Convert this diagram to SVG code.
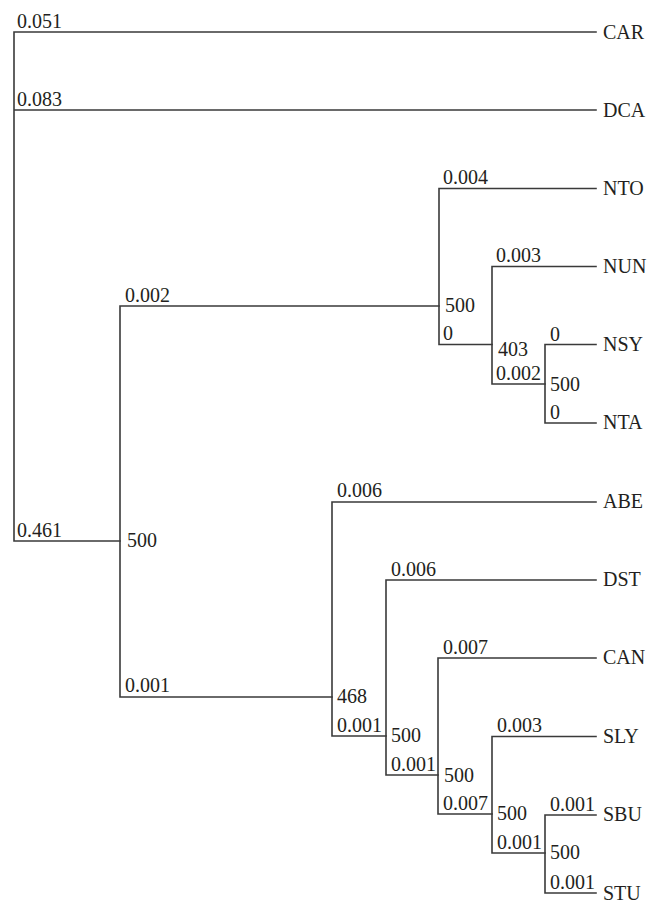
<svg xmlns="http://www.w3.org/2000/svg" width="666" height="912" viewBox="0 0 666 912" font-family="'Liberation Serif', 'Times New Roman', serif">
<style>
.e{fill:none;stroke:#3a3a3a;stroke-width:1.6;stroke-linecap:square}
text{font-family:'Liberation Serif','Times New Roman',serif;font-size:20px;fill:#231f20}
</style>
<rect width="666" height="912" fill="#fff"/>
<g id="connectors">
<path class="e" d="M14,32V541M14,32H596M14,110H596M14,541H120"/>
<path class="e" d="M120,306V697M120,306H439M120,697H332"/>
<path class="e" d="M439,188.5V344.5M439,188.5H596M439,344.5H492"/>
<path class="e" d="M492,266.5V384M492,266.5H596M492,384H545"/>
<path class="e" d="M545,344.5V423M545,344.5H596M545,423H596"/>
<path class="e" d="M332,502V736M332,502H596M332,736H386"/>
<path class="e" d="M386,580V775M386,580H596M386,775H438"/>
<path class="e" d="M438,658V814M438,658H596M438,814H492"/>
<path class="e" d="M492,736.5V853M492,736.5H596M492,853H545"/>
<path class="e" d="M545,815V893M545,815H596M545,893H596"/>
</g>
<g id="branch-labels">
<text x="17" y="28">0.051</text>
<text x="17" y="106">0.083</text>
<text x="17" y="537">0.461</text>
<text x="125" y="302">0.002</text>
<text x="125" y="692">0.001</text>
<text x="443" y="184">0.004</text>
<text x="443" y="340">0</text>
<text x="496" y="262">0.003</text>
<text x="496" y="380">0.002</text>
<text x="550" y="341">0</text>
<text x="550" y="419">0</text>
<text x="337" y="497">0.006</text>
<text x="337" y="732">0.001</text>
<text x="391" y="576">0.006</text>
<text x="391" y="771">0.001</text>
<text x="443" y="654">0.007</text>
<text x="443" y="810">0.007</text>
<text x="497" y="732">0.003</text>
<text x="497" y="849">0.001</text>
<text x="550" y="811">0.001</text>
<text x="550" y="889">0.001</text>
</g>
<g id="node-A"><text x="127" y="547">500</text></g>
<g id="node-N1"><text x="445" y="312">500</text></g>
<g id="node-N2"><text x="498" y="356">403</text></g>
<g id="node-N3"><text x="550" y="391">500</text></g>
<g id="node-S1"><text x="337" y="703">468</text></g>
<g id="node-S2"><text x="391" y="742">500</text></g>
<g id="node-S3"><text x="444" y="782">500</text></g>
<g id="node-S4"><text x="497" y="820">500</text></g>
<g id="node-S5"><text x="550" y="859">500</text></g>
<g id="leaf-CAR"><text x="603" y="39">CAR</text></g>
<g id="leaf-DCA"><text x="603" y="117">DCA</text></g>
<g id="leaf-NTO"><text x="603" y="195">NTO</text></g>
<g id="leaf-NUN"><text x="603" y="273">NUN</text></g>
<g id="leaf-NSY"><text x="603" y="351">NSY</text></g>
<g id="leaf-NTA"><text x="603" y="429">NTA</text></g>
<g id="leaf-ABE"><text x="603" y="508">ABE</text></g>
<g id="leaf-DST"><text x="603" y="586">DST</text></g>
<g id="leaf-CAN"><text x="603" y="664">CAN</text></g>
<g id="leaf-SLY"><text x="603" y="743">SLY</text></g>
<g id="leaf-SBU"><text x="603" y="821">SBU</text></g>
<g id="leaf-STU"><text x="603" y="900">STU</text></g>
</svg>
